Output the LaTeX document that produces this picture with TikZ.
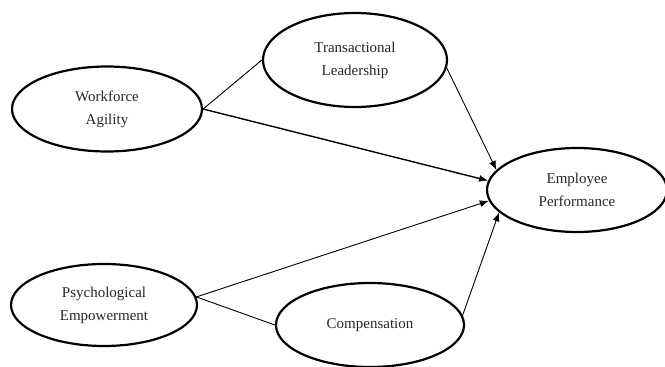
\documentclass[tikz,border=0pt]{standalone}
\usepackage{fontspec}
\setmainfont{Liberation Serif}
\usetikzlibrary{shapes.geometric,arrows.meta}
\begin{document}
\begin{tikzpicture}[x=1pt,y=-1pt,
  construct/.style={draw=black, ellipse, line width=2.2pt, inner sep=0pt,
    align=center, font=\fontsize{15}{23}\selectfont, text=black!85},
  link/.style={draw=black, line width=0.9pt},
  arr/.style={link, -{Latex[length=9pt,width=7pt]}}]
\useasboundingbox (0,0) rectangle (665,367);
\node[construct, minimum width=190pt, minimum height=85pt] (WA) at (107,109) {Workforce\\Agility};
\node[construct, minimum width=184pt, minimum height=94pt] (TL) at (355,60) {Transactional\\Leadership};
\node[construct, minimum width=180pt, minimum height=84pt] (EP) at (577,190) {Employee\\Performance};
\node[construct, minimum width=186pt, minimum height=82pt] (PE) at (104,305) {Psychological\\Empowerment};
\node[construct, minimum width=188pt, minimum height=84pt] (CO) at (370,325) {Compensation};
\draw[link] (WA.east) -- (TL.west);
\draw[arr, line width=1.4pt] (WA.east) -- (EP.174);
\draw[arr] (TL.-5) -- (EP.166);
\draw[arr] (PE.5) -- (EP.187);
\draw[link] (PE.5) -- (CO.west);
\draw[arr] (CO.6) -- (EP.196);
\end{tikzpicture}
\end{document}
